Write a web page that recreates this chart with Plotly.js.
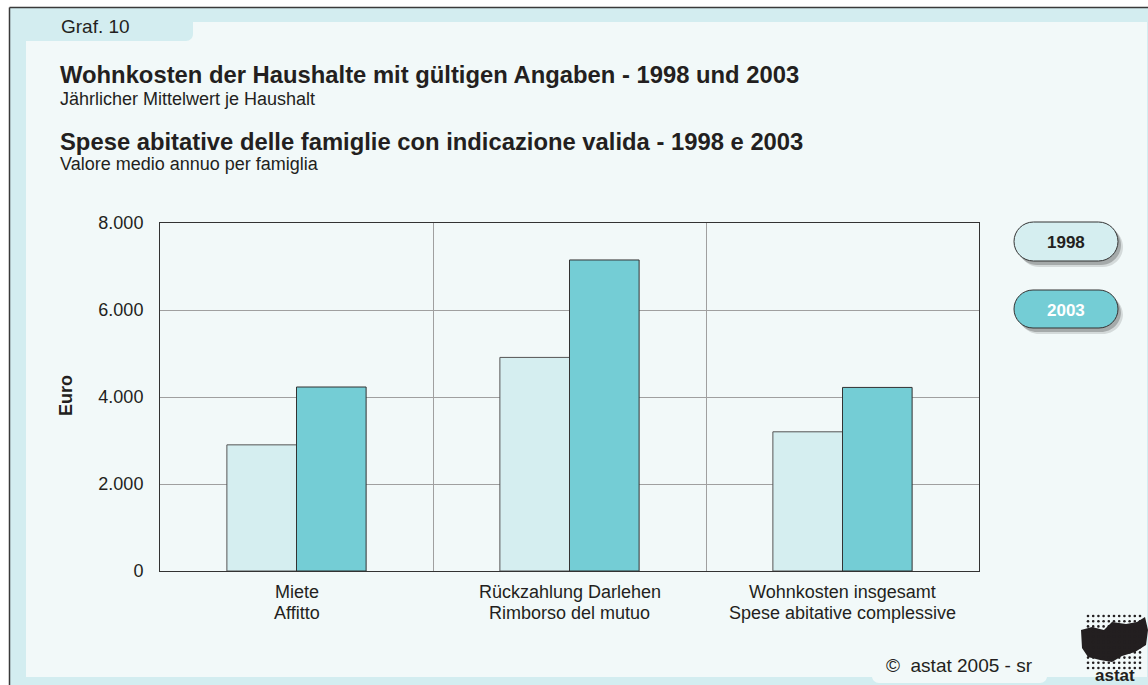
<!DOCTYPE html>
<html>
<head>
<meta charset="utf-8">
<script src="https://cdn.plot.ly/plotly-3.0.1.min.js"></script>
<style>html,body{margin:0;padding:0;background:#fff;}#chart{width:1148px;height:685px;}</style>
</head>
<body>
<div id="chart"></div>
<script>
// ---- data ----
const catDE = ["Miete", "Rückzahlung Darlehen", "Wohnkosten insgesamt"];
const catIT = ["Affitto", "Rimborso del mutuo", "Spese abitative complessive"];
const seriesNames = ["1998", "2003"];
const values1998 = [2900, 4910, 3200];
const values2003 = [4230, 7150, 4220];
const yTicks = [0, 2000, 4000, 6000, 8000];
const titleDE = "Wohnkosten der Haushalte mit gültigen Angaben - 1998 und 2003";
const subDE = "Jährlicher Mittelwert je Haushalt";
const titleIT = "Spese abitative delle famiglie con indicazione valida - 1998 e 2003";
const subIT = "Valore medio annuo per famiglia";
const yTitle = "Euro";
const grafLabel = "Graf. 10";
const copyright = "©  astat 2005 - sr";
const logoText = "astat";

// ---- geometry helpers (pixels -> paper) ----
const W = 1148, H = 685, L = 160, R = 979, T = 223, B = 571;
const px = x => (x - L) / (R - L);
const py = y => (B - y) / (B - T);
const P = (x, y) => px(x).toFixed(5) + "," + py(y).toFixed(5);
const K = 0.5523;
function rr(x1, y1, x2, y2, c) {
  const [tl, tr, br, bl] = c;
  let d = "M" + P(x1 + tl, y1) + " L" + P(x2 - tr, y1);
  if (tr) d += " C" + P(x2 - tr + K * tr, y1) + " " + P(x2, y1 + tr - K * tr) + " " + P(x2, y1 + tr);
  d += " L" + P(x2, y2 - br);
  if (br) d += " C" + P(x2, y2 - br + K * br) + " " + P(x2 - br + K * br, y2) + " " + P(x2 - br, y2);
  d += " L" + P(x1 + bl, y2);
  if (bl) d += " C" + P(x1 + bl - K * bl, y2) + " " + P(x1, y2 - bl + K * bl) + " " + P(x1, y2 - bl);
  d += " L" + P(x1, y1 + tl);
  if (tl) d += " C" + P(x1, y1 + tl - K * tl) + " " + P(x1 + tl - K * tl, y1) + " " + P(x1 + tl, y1);
  return d + " Z";
}
function pathShape(d, fill, line, width, layer) {
  return {type: "path", xref: "paper", yref: "paper", path: d, fillcolor: fill,
          line: {color: line || "rgba(0,0,0,0)", width: width || 0}, layer: layer || "below"};
}
function rectShape(x1, y1, x2, y2, fill) {
  return {type: "rect", xref: "paper", yref: "paper", x0: px(x1), x1: px(x2), y0: py(y2), y1: py(y1),
          fillcolor: fill, line: {width: 0}, layer: "below"};
}
function lineShape(x1, y1, x2, y2, color, width) {
  return {type: "line", xref: "paper", yref: "paper", x0: px(x1), x1: px(x2), y0: py(y1), y1: py(y2),
          line: {color: color, width: width}, layer: "below"};
}
function dotShape(cx, cy, r, fill) {
  return {type: "circle", xref: "paper", yref: "paper", x0: px(cx - r), x1: px(cx + r), y0: py(cy + r), y1: py(cy - r),
          fillcolor: fill, line: {width: 0}, layer: "above"};
}

const CYAN = "#d3edf0", PANEL = "#f2f9f9";
const C1998 = "#d5eef0", C2003 = "#74cdd5";
const FONT = "Liberation Sans, Arial, Helvetica, sans-serif";

const shapes = [
  rectShape(10, 8, 1148, 685, CYAN),
  rectShape(26, 22, 1147, 677, PANEL),
  pathShape(rr(26, 21, 193, 41, [0, 0, 7, 0]), CYAN),
  pathShape(rr(872, 650, 1047, 683, [0, 0, 7, 7]), PANEL),
  lineShape(9.5, 7.5, 1148, 7.5, "#3a3a3a", 1.5),
  lineShape(9.5, 7.5, 9.5, 685, "#3a3a3a", 1.5),
  // legend pills with shadows
  pathShape(rr(1019, 227, 1123, 267, [20, 20, 20, 20]), "rgba(0,0,0,0.12)"),
  pathShape(rr(1017, 225, 1121, 265, [20, 20, 20, 20]), "rgba(0,0,0,0.22)"),
  pathShape(rr(1014, 222, 1118, 261, [19.5, 19.5, 19.5, 19.5]), C1998, "#333", 1),
  pathShape(rr(1019, 295, 1123, 334, [20, 20, 20, 20]), "rgba(0,0,0,0.12)"),
  pathShape(rr(1017, 293, 1121, 332, [20, 20, 20, 20]), "rgba(0,0,0,0.22)"),
  pathShape(rr(1014, 290, 1118, 328, [19, 19, 19, 19]), C2003, "#333", 1),
  // logo blob (map silhouette)
  pathShape("M" + P(1081, 630) + " L" + P(1092, 627) + " L" + P(1104, 630) + " L" + P(1112, 622) +
            " L" + P(1126, 624) + " L" + P(1137, 622) + " L" + P(1145, 617) + " L" + P(1148, 630) +
            " L" + P(1146, 645) + " L" + P(1135, 652) + " L" + P(1122, 656) + " L" + P(1112, 662) +
            " L" + P(1100, 660) + " L" + P(1088, 657) + " L" + P(1082, 648) + " Z", "#231f20", null, 0, "above")
];
// logo dot raster
for (let r = 0; r < 11; r++) {
  for (let c = 0; c < 11; c++) {
    shapes.push(dotShape(1088 + c * 5.2, 616 + r * 5.2, 1.3, "#231f20"));
  }
}

function ann(text, x, y, size, opts) {
  return Object.assign({text: text, xref: "paper", yref: "paper", x: px(x), y: py(y),
    xanchor: "left", yanchor: "middle", showarrow: false,
    font: {family: FONT, size: size, color: "#231f20"}}, opts || {});
}

const annotations = [
  ann(grafLabel, 59, 27, 19),
  ann("<b>" + titleDE + "</b>", 58, 74, 23.8),
  ann(subDE, 58, 99, 18),
  ann("<b>" + titleIT + "</b>", 58, 141, 23.8),
  ann(subIT, 58, 164, 18),
  ann("<b>" + yTitle + "</b>", 66, 396, 18, {xanchor: "center", textangle: -90}),
  ann("<b>" + seriesNames[0] + "</b>", 1066, 242, 17, {xanchor: "center"}),
  ann("<b>" + seriesNames[1] + "</b>", 1066, 310, 17, {xanchor: "center", font: {family: FONT, size: 17, color: "#ffffff"}}),
  ann(copyright, 884, 665, 19),
  ann("<b>" + logoText + "</b>", 1115, 675, 17, {xanchor: "center", font: {family: FONT, size: 17, color: "#231f20"}})
];
// category labels (two lines, German / Italian)
catDE.forEach((c, i) => {
  annotations.push({text: c, xref: "x", yref: "paper", x: c, y: py(592), xanchor: "center", yanchor: "middle",
    showarrow: false, font: {family: FONT, size: 18, color: "#231f20"}});
  annotations.push({text: catIT[i], xref: "x", yref: "paper", x: c, y: py(613), xanchor: "center", yanchor: "middle",
    showarrow: false, font: {family: FONT, size: 18, color: "#231f20"}});
});

const data = [
  {type: "bar", name: seriesNames[0], x: catDE, y: values1998,
   marker: {color: C1998, line: {color: "#555", width: 1}}, hoverinfo: "y"},
  {type: "bar", name: seriesNames[1], x: catDE, y: values2003,
   marker: {color: C2003, line: {color: "#333", width: 1}}, hoverinfo: "y"}
];

const layout = {
  width: W, height: H,
  margin: {l: L, r: W - R, t: T, b: H - B, pad: 0},
  paper_bgcolor: "#ffffff", plot_bgcolor: "#ffffff",
  separators: ",.",
  showlegend: false,
  barmode: "group", bargap: 0.49, bargroupgap: 0,
  font: {family: FONT, size: 18, color: "#231f20"},
  xaxis: {type: "category", tickson: "boundaries", showgrid: true, gridcolor: "#a0a0a0", gridwidth: 1,
          showticklabels: false, ticks: "", showline: true, linecolor: "#333", linewidth: 1, mirror: true,
          fixedrange: true},
  yaxis: {range: [0, 8000], tickvals: yTicks, tickformat: ",d", showgrid: true, gridcolor: "#a0a0a0",
          gridwidth: 1, zeroline: false, ticks: "", ticklabelstandoff: 12,
          tickfont: {family: FONT, size: 18, color: "#231f20"},
          showline: true, linecolor: "#333", linewidth: 1, mirror: true, fixedrange: true},
  shapes: shapes,
  annotations: annotations
};

Plotly.newPlot("chart", data, layout, {displayModeBar: false, staticPlot: true});
</script>
</body>
</html>
